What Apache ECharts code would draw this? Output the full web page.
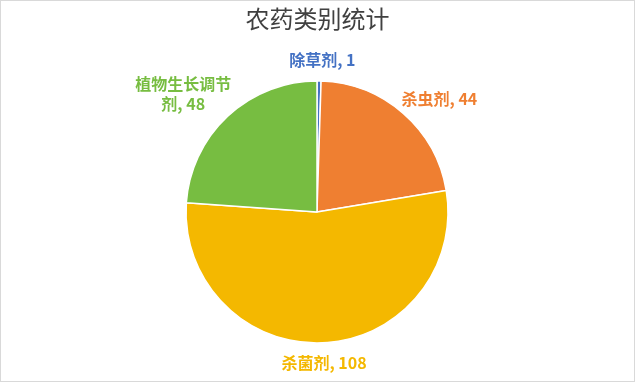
<!DOCTYPE html>
<html><head><meta charset="utf-8">
<script src="https://cdn.jsdelivr.net/npm/echarts@6/dist/echarts.min.js"></script>
<style>
html,body{margin:0;padding:0;background:#fff;}
#c{width:633px;height:380px;border:1px solid #d9d9d9;}
</style></head>
<body><div id="c"></div>
<script>
const titleText = '农药类别统计';
const categories = ['除草剂', '杀虫剂', '杀菌剂', '植物生长调节剂'];
const values = [1, 44, 108, 48];
const colors = ['#4472C4', '#EF7F31', '#F4B800', '#77BD41'];
// small label nudges (style only)
const labelNudge = [[-35, -13], [-12, -8], [-47, 12], [14, -16]];

const chart = echarts.init(document.getElementById('c'));
chart.setOption({
  animation: false,
  title: {
    text: titleText, left: 'center', top: 1, padding: [5, 0, 5, 12],
    textStyle: {fontFamily: 'Noto Sans CJK SC', fontSize: 24, fontWeight: 'normal', color: '#404040'}
  },
  series: [{
    type: 'pie',
    center: [316, 211],
    radius: 131,
    startAngle: 90,
    clockwise: true,
    itemStyle: {borderColor: '#fff', borderWidth: 1.5},
    data: categories.map((n, i) => ({
      name: n, value: values[i],
      itemStyle: {color: colors[i]},
      label: {color: colors[i]}
    })),
    label: {
      show: true, position: 'outside',
      fontFamily: 'Noto Sans CJK SC', fontSize: 16, fontWeight: 'bold', lineHeight: 20,
      formatter: p => {
        const n = p.name.length > 6 ? p.name.slice(0, 6) + '\n' + p.name.slice(6) : p.name;
        return '{t|' + n.split('\n').join('}\n{t|') + ', ' + p.value + '}';
      },
      rich: {t: {align: 'center', fontFamily: 'Noto Sans CJK SC', fontSize: 16, fontWeight: 'bold', lineHeight: 20}}
    },
    labelLine: {show: false, length: 8, length2: 0},
    labelLayout: p => ({dx: labelNudge[p.dataIndex][0], dy: labelNudge[p.dataIndex][1]})
  }]
});
</script>
</body></html>
